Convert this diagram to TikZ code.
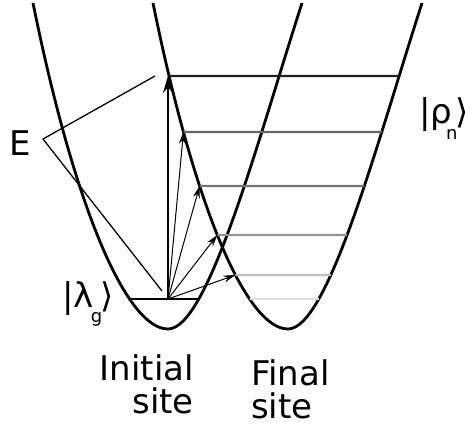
\documentclass[tikz,border=0pt]{standalone}
\usepackage{fontspec}
\setmainfont{DejaVu Sans}
\usetikzlibrary{arrows.meta,intersections}

\begin{document}
\begin{tikzpicture}[x=1pt,y=-1pt,
    well/.style={line width=2.8pt},
    level/.style={line width=2.2pt},
    jump/.style={line width=1pt,-{Stealth[length=12pt,width=7pt]}},
    txt/.style={inner sep=0pt,font=\fontsize{34}{33}\selectfont}]
  \useasboundingbox (0,0) rectangle (465,425);

  % the two wells
  \draw[well,name path=initial] (33,3) .. controls (76,215) and (128,329) .. (168,329)
    .. controls (208,329) and (257,143) .. (302,3);
  \draw[well,name path=final] (153,3) .. controls (196,215) and (248,329) .. (288,329)
    .. controls (328,329) and (377,143) .. (422,3);

  % levels cut from the wells
  \path[name path=h0] (0,299) -- (260,299);
  \path[name intersections={of=initial and h0,sort by=h0,by={g0a,g0b}}];
  \path[name path=h1] (100,76) -- (460,76);
  \path[name intersections={of=final and h1,sort by=h1,by={l1a,l1b}}];
  \path[name path=h2] (100,132) -- (460,132);
  \path[name intersections={of=final and h2,sort by=h2,by={l2a,l2b}}];
  \path[name path=h3] (100,186) -- (460,186);
  \path[name intersections={of=final and h3,sort by=h3,by={l3a,l3b}}];
  \path[name path=h4] (100,235) -- (460,235);
  \path[name intersections={of=final and h4,sort by=h4,by={l4a,l4b}}];
  \path[name path=h5] (100,275) -- (460,275);
  \path[name intersections={of=final and h5,sort by=h5,by={l5a,l5b}}];
  \path[name path=h6] (100,299) -- (460,299);
  \path[name intersections={of=final and h6,sort by=h6,by={l6a,l6b}}];

  \draw[level,black!88] (l1a) -- (l1b);
  \draw[level,black!60] (l2a) -- (l2b);
  \draw[level,black!55] (l3a) -- (l3b);
  \draw[level,black!42] (l4a) -- (l4b);
  \draw[level,black!25] (l5a) -- (l5b);
  \draw[level,black!13] (l6a) -- (l6b);
  \draw[line width=1.8pt] (g0a) -- (g0b);

  % transitions
  \coordinate (G) at (168,299);
  \draw[line width=2pt,-{Stealth[length=17pt,width=10pt]}] (G) -- (G |- l1a);
  \draw[jump] (G) -- (l2a);
  \draw[jump] (G) -- (l3a);
  \draw[jump] (G) -- (l4a);
  \draw[jump] (G) -- (l5a);

  % energy bracket
  \node[txt,anchor=base] (E) at (20.5,155) {E};
  \coordinate (Ev) at (43,139);
  \coordinate (Etop) at (155,76);
  \coordinate (Ebot) at (162,291);
  \draw[line width=1.3pt] (Etop) -- (Ev) -- (Ebot);

  \node[txt,anchor=base west] (lam) at (62,307) {|λ\kern-3pt\raisebox{-15pt}{\fontsize{18}{18}\selectfont g}\kern-2pt⟩};
  \node[txt,anchor=base west] (rho) at (419,123) {|ρ\kern-6pt\raisebox{-16pt}{\fontsize{18}{18}\selectfont n}\kern-2pt⟩};
  \node[txt,align=right,anchor=base east] (init) at (194,413) {Initial\\site};
  \node[txt,align=left,anchor=base west] (fin) at (251,418) {Final\\site};
\end{tikzpicture}
\end{document}
